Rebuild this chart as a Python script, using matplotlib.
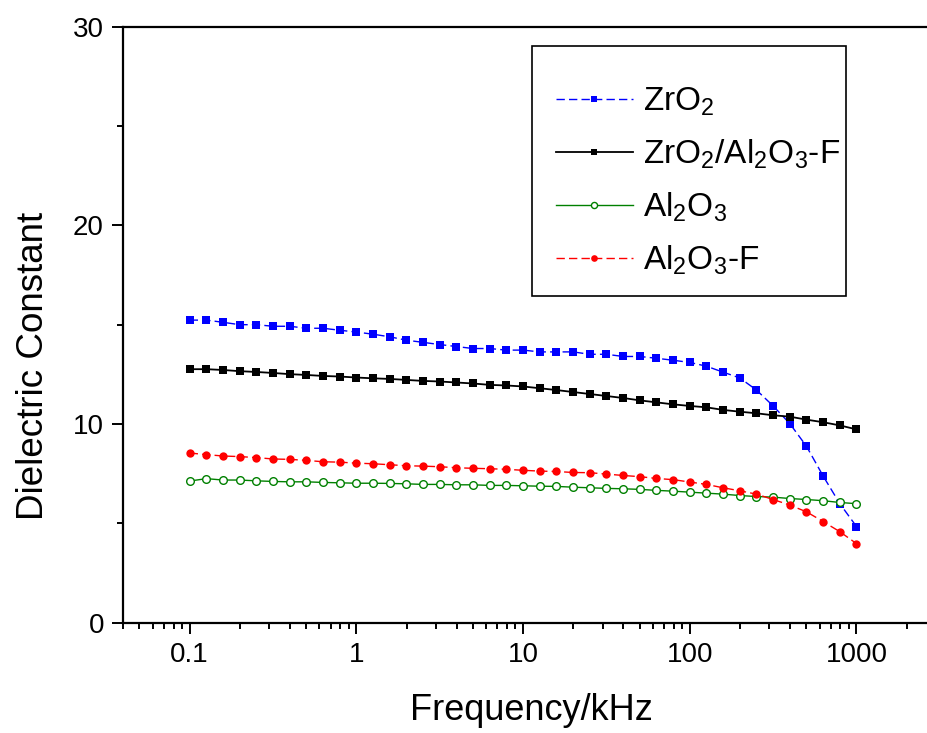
import matplotlib
matplotlib.use("Agg")
import matplotlib.pyplot as plt
from matplotlib.patches import Rectangle
from matplotlib.ticker import LogLocator, FixedLocator, NullFormatter

plt.rcParams['font.family'] = ['Liberation Sans', 'DejaVu Sans']
plt.rcParams['mathtext.fontset'] = 'custom'
plt.rcParams['mathtext.rm'] = 'Liberation Sans'

# frecuencias: 10 puntos por decada, de 0.1 a 1000 kHz
freq = [0.1, 0.1259, 0.1585, 0.1995, 0.2512, 0.3162, 0.3981, 0.5012, 0.631, 0.7943,
        1.0, 1.259, 1.585, 1.995, 2.512, 3.162, 3.981, 5.012, 6.31, 7.943,
        10.0, 12.59, 15.85, 19.95, 25.12, 31.62, 39.81, 50.12, 63.1, 79.43,
        100.0, 125.9, 158.5, 199.5, 251.2, 316.2, 398.1, 501.2, 631.0, 794.3,
        1000.0]

zro2 = [15.23, 15.23, 15.12, 15.0, 15.0, 14.92, 14.92, 14.82, 14.82, 14.72,
        14.63, 14.52, 14.39, 14.22, 14.11, 14.0, 13.9, 13.8, 13.8, 13.72,
        13.72, 13.63, 13.63, 13.63, 13.51, 13.51, 13.40, 13.40, 13.31, 13.21,
        13.10, 12.91, 12.61, 12.32, 11.71, 10.91, 10.02, 8.88, 7.38, 5.99,
        4.84]

zro2_al2o3_f = [12.76, 12.76, 12.72, 12.66, 12.62, 12.57, 12.51, 12.47, 12.42, 12.39,
                12.34, 12.30, 12.27, 12.22, 12.17, 12.14, 12.09, 12.04, 11.97, 11.94,
                11.89, 11.80, 11.71, 11.61, 11.51, 11.41, 11.31, 11.19, 11.09, 10.99,
                10.91, 10.84, 10.71, 10.62, 10.54, 10.44, 10.37, 10.22, 10.09, 9.93,
                9.73]

al2o3 = [7.13, 7.25, 7.18, 7.18, 7.14, 7.11, 7.09, 7.09, 7.06, 7.04,
         7.02, 7.02, 7.01, 6.99, 6.96, 6.96, 6.94, 6.94, 6.91, 6.91,
         6.89, 6.87, 6.86, 6.82, 6.79, 6.76, 6.74, 6.71, 6.66, 6.62,
         6.57, 6.52, 6.47, 6.40, 6.35, 6.32, 6.25, 6.20, 6.14, 6.05,
         5.99]

al2o3_f = [8.54, 8.46, 8.39, 8.36, 8.31, 8.24, 8.22, 8.17, 8.10, 8.08,
           8.03, 8.00, 7.95, 7.90, 7.88, 7.85, 7.80, 7.77, 7.75, 7.72,
           7.67, 7.63, 7.61, 7.56, 7.55, 7.48, 7.41, 7.35, 7.26, 7.20,
           7.08, 6.96, 6.79, 6.64, 6.47, 6.20, 5.92, 5.58, 5.09, 4.58,
           3.98]

etiquetas = [r'ZrO$\mathregular{_2}$',
             r'ZrO$\mathregular{_2}$/Al$\mathregular{_2}$O$\mathregular{_3}$-F',
             r'Al$\mathregular{_2}$O$\mathregular{_3}$',
             r'Al$\mathregular{_2}$O$\mathregular{_3}$-F']

fig = plt.figure(figsize=(9.28, 7.33), dpi=100)
# los ejes se salen por la derecha, como en la imagen original
ax = fig.add_axes([0.1329, 0.1505, 0.8982, 0.8131])

ax.plot(freq, zro2, color='#0000ff', linestyle=(0, (6, 3)), linewidth=1.0,
        marker='s', markersize=5.2, markeredgewidth=0, label=etiquetas[0])
ax.plot(freq, zro2_al2o3_f, color='black', linestyle='-', linewidth=1.3,
        marker='s', markersize=5.8, markeredgewidth=0, label=etiquetas[1])
ax.plot(freq, al2o3, color='#008000', linestyle='-', linewidth=1.0,
        marker='o', markersize=5.5, markerfacecolor='white', markeredgewidth=1.0,
        label=etiquetas[2])
ax.plot(freq, al2o3_f, color='#ff0000', linestyle=(0, (6, 3)), linewidth=1.0,
        marker='o', markersize=6.0, markeredgewidth=0, label=etiquetas[3])

ax.set_xscale('log')
ax.set_xlim(0.04, 4000)
ax.set_ylim(0, 30)

ax.xaxis.set_major_locator(FixedLocator([0.1, 1, 10, 100, 1000]))
ax.set_xticklabels(['0.1', '1', '10', '100', '1000'])
ax.xaxis.set_minor_locator(LogLocator(base=10, subs=range(2, 10), numticks=20))
ax.xaxis.set_minor_formatter(NullFormatter())
ax.set_yticks([0, 10, 20, 30])
ax.yaxis.set_minor_locator(FixedLocator([5, 15, 25]))

for s in ['left', 'bottom', 'top']:
    ax.spines[s].set_linewidth(1.6)
ax.spines['right'].set_visible(False)

ax.tick_params(axis='both', which='major', direction='out', length=8, width=1.4,
               labelsize=20, pad=6)
ax.tick_params(axis='both', which='minor', direction='out', length=4.5, width=1.4)

ax.set_xlabel('Frequency/kHz', fontsize=26)
ax.set_ylabel('Dielectric Constant', fontsize=26.5)
ax.xaxis.set_label_coords(0.490, -0.118)
ax.yaxis.set_label_coords(-0.087, 0.431)

# recuadro de la leyenda
ax.add_patch(Rectangle((0.4903, 0.548), 0.3767, 0.4196, transform=ax.transAxes,
                       fill=False, edgecolor='black', linewidth=1.2, zorder=5))
ax.legend(loc='upper left', bbox_to_anchor=(0.519, 0.901), frameon=False,
          fontsize=24, handlelength=2.31, handletextpad=0.3, labelspacing=0.59,
          markerscale=0.8, borderaxespad=0, borderpad=0)

plt.savefig('out.png', dpi=100)
